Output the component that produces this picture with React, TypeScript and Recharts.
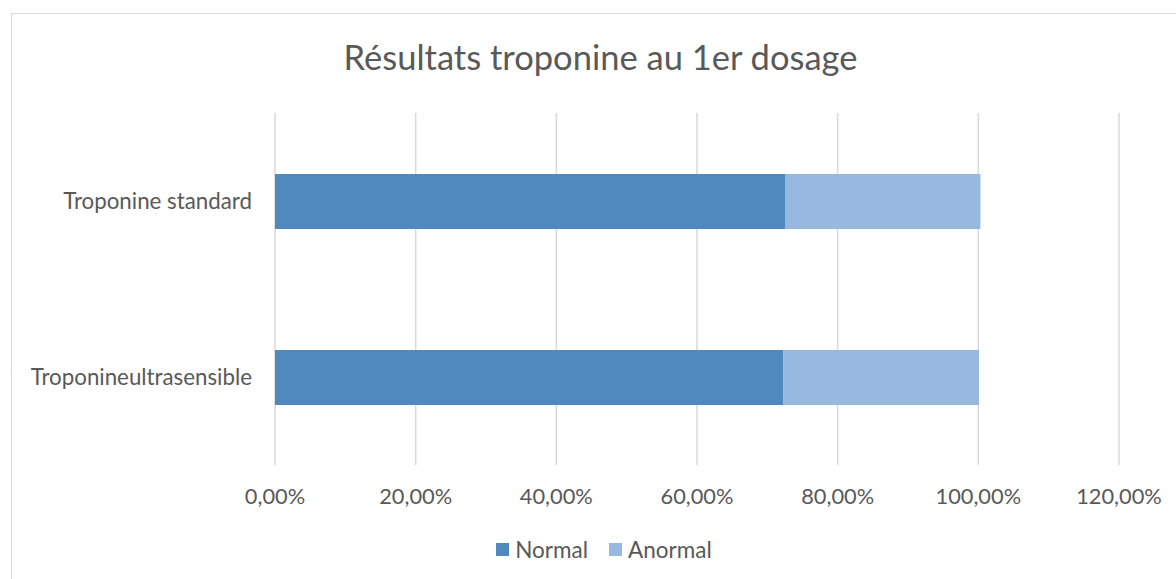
import React from 'react';
import { BarChart, Bar, XAxis, YAxis, CartesianGrid, Legend } from 'recharts';

const categories = ['Troponine standard', 'Troponineultrasensible'];
const normalValues = [72.6, 72.3];
const anormalValues = [27.7, 27.8];
const xTicks = [0, 20, 40, 60, 80, 100, 120];
const seriesNames = ['Normal', 'Anormal'];
const seriesColors = ['#4F89BD', '#98B9DF'];

const data = categories.map((c, i) => ({
  name: c,
  Normal: normalValues[i],
  Anormal: anormalValues[i],
}));

const FONT = 'Lato, "Open Sans", sans-serif';
const TEXT = '#595959';

const fmt = (v: number) => v.toFixed(2).replace('.', ',') + '%';

const LegendContent = () => (
  <div style={{ display: 'flex', justifyContent: 'center', alignItems: 'center', height: 27, fontFamily: FONT, fontSize: 22.5, color: TEXT }}>
    {seriesNames.map((n, i) => (
      <div key={n} style={{ display: 'flex', alignItems: 'center', marginLeft: i ? 21 : 0 }}>
        <span style={{ display: 'inline-block', width: 13, height: 13, background: seriesColors[i], marginRight: 6 }} />
        <span>{n}</span>
      </div>
    ))}
  </div>
);

export default function App() {
  return (
    <div style={{ position: 'fixed', left: 0, top: 0, width: 1176, height: 579, overflow: 'hidden', background: '#fff' }}>
      <div style={{ position: 'absolute', left: 11, top: 13, width: 1200, height: 600, border: '1px solid #D9D9D9', boxSizing: 'border-box' }} />
      <div style={{ position: 'absolute', left: 0, top: 36, width: 1201, textAlign: 'center', fontFamily: FONT, fontSize: 34.5, color: TEXT, lineHeight: '42px' }}>
        Résultats troponine au 1er dosage
      </div>
      <div style={{ position: 'absolute', left: 0, top: 0 }}>
        <BarChart
          width={1176}
          height={579}
          data={data}
          layout="vertical"
          barSize={55}
          margin={{ top: 113, right: 57, bottom: 0, left: 0 }}
        >
          <CartesianGrid horizontal={false} vertical={true} stroke="#D9D9D9" strokeWidth={1.5} />
          <XAxis
            type="number"
            domain={[0, 120]}
            ticks={xTicks}
            tickFormatter={fmt}
            axisLine={false}
            tickLine={false}
            tickSize={0}
            tickMargin={24}
            height={87}
            tick={{ fill: TEXT, fontSize: 21.8, fontFamily: FONT }}
            interval={0}
          />
          <YAxis
            type="category"
            dataKey="name"
            width={275}
            axisLine={false}
            tickLine={false}
            tickSize={0}
            tickMargin={23}
            tick={{ fill: TEXT, fontSize: 22.3, fontFamily: FONT }}
          />
          <Bar dataKey="Normal" stackId="a" fill={seriesColors[0]} isAnimationActive={false} />
          <Bar dataKey="Anormal" stackId="a" fill={seriesColors[1]} isAnimationActive={false} />
          <Legend
            content={<LegendContent />}
            wrapperStyle={{ position: 'absolute', top: 536, left: 16, width: 1176, bottom: 'auto' }}
          />
        </BarChart>
      </div>
    </div>
  );
}
